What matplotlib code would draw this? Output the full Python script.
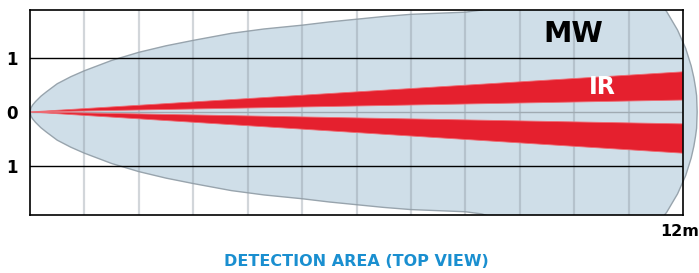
import matplotlib.pyplot as plt
from matplotlib.patches import Polygon, Rectangle

# MW detection lobe: distance (m) and half-width (m)
mw_x = [0, 0.02, 0.05, 0.1, 0.2, 0.3, 0.5, 0.75, 1, 1.5, 2, 2.5, 3, 3.7, 4.3,
        5, 5.5, 6, 6.5, 7, 7.5, 8, 8.3, 9, 10, 11, 11.4, 11.7, 11.9, 12.05,
        12.15, 12.2, 12.23, 12.25, 12.26]
mw_hw = [0, 0.08, 0.13, 0.19, 0.29, 0.37, 0.52, 0.65, 0.76, 0.95, 1.1, 1.22,
         1.32, 1.45, 1.53, 1.6, 1.66, 1.71, 1.76, 1.8, 1.82, 1.84, 1.88, 2.1,
         2.3, 2.35, 2.23, 1.85, 1.51, 1.17, 0.85, 0.63, 0.45, 0.3, 0]

# IR beams: edges at 12 m (beams start at the sensor)
ir_end = 12
ir_upper = [0.22, 0.74]
ir_lower = [-0.22, -0.76]

grid_x = list(range(1, 12))
ytick_pos = [1, 0, -1]
ytick_lab = ['1', '0', '1']

fig = plt.figure(figsize=(6.99, 2.73), dpi=100)
ax = fig.add_axes([30/699, 58/273, 653/699, 205/273])
ax.set_xlim(0, 12)
ax.set_ylim(-1.90, 1.88)

# lobe outline as closed polygon (top edge then bottom edge back)
pts = [(x, h) for x, h in zip(mw_x, mw_hw)] + [(x, -h) for x, h in zip(mw_x[::-1], mw_hw[::-1])]
lobe = Polygon(pts, closed=True, facecolor='#cfdee8', edgecolor='#98a4ad', lw=1.0, zorder=1)
ax.add_patch(lobe)
clip = Rectangle((0, -1.90), 13, 3.78, transform=ax.transData)
lobe.set_clip_path(clip)

# grid
ax.vlines(grid_x, -1.90, 1.88, color='#8f9aa3', alpha=0.4, lw=1.6, zorder=2)
ax.axhline(0, color='#a0aab2', lw=1.0, zorder=2)
ax.axhline(1, color='black', lw=1.0, zorder=4)
ax.axhline(-1, color='black', lw=1.0, zorder=4)

# IR beams
for edges in (ir_upper, ir_lower):
    beam = Polygon([(0, 0), (ir_end, edges[0]), (ir_end, edges[1])], closed=True,
                   facecolor='#e5202e', edgecolor='#ee6a72', lw=0.6, zorder=3)
    ax.add_patch(beam)

for s in ax.spines.values():
    s.set_linewidth(1.2)
    s.set_color('black')
    s.set_zorder(5)

ax.set_xticks([])
ax.set_yticks(ytick_pos)
ax.set_yticklabels(ytick_lab, fontsize=12, fontweight='bold')
ax.tick_params(axis='y', length=0, pad=9)

ax.text(9.98, 1.43, 'MW', fontsize=20.5, fontweight='bold', color='black',
        ha='center', va='center', zorder=6)
ax.text(10.51, 0.46, 'IR', fontsize=17, fontweight='bold', color='white',
        ha='center', va='center', zorder=6)
ax.text(11.93, -2.2, '12m', fontsize=11.5, fontweight='bold', color='black',
        ha='center', va='center', clip_on=False)

fig.text(356/699, 1 - 262/273, 'DETECTION AREA (TOP VIEW)', fontsize=11.5,
         fontweight='bold', color='#1a8fd0', ha='center', va='center')

fig.savefig('out.png', dpi=100)
